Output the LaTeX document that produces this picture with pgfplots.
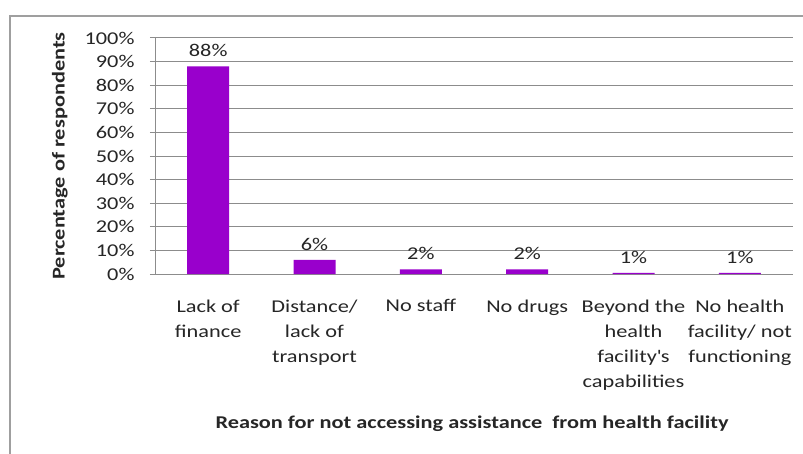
\documentclass[border=0pt]{standalone}
\usepackage{fontspec}
\setmainfont{Carlito}[FakeStretch=1.24]
\usepackage{pgfplots}
\pgfplotsset{compat=1.18}
\definecolor{barpurple}{HTML}{9900CC}
\definecolor{gridgray}{HTML}{8C8C8C}
\definecolor{txt}{HTML}{262626}
\begin{document}
\begin{tikzpicture}[x=1pt,y=1pt]
\useasboundingbox (0,0) rectangle (803,453);
\fill[white] (0,0) rectangle (803,453);
\draw[gray!75, line width=1.5pt] (10,-10) -- (10,437) -- (815,437);
\begin{axis}[at={(155pt,179pt)}, anchor=south west, scale only axis,
  width=638pt, height=236pt,
  xmin=-0.5, xmax=5.5, ymin=0, ymax=100,
  ybar, bar width=42pt,
  ytick={0,10,...,100},
  yticklabel={\pgfmathprintnumber{\tick}\%},
  /pgf/number format/assume math mode=true,
  font=\fontsize{18}{22}\selectfont,
  every tick label/.append style={text=txt},
  axis lines*=left,
  axis line style={gridgray, line width=1pt},
  ymajorgrids, grid style={gridgray, line width=1pt},
  ytick style={gridgray, line width=1pt},
  tick align=outside, major tick length=5pt,
  xtick={0,...,5},
  xtick style={draw=none},
  xticklabels={{Lack of\\finance},{Distance/\\lack of\\transport},{No staff},{No drugs},{Beyond the\\health\\facility\textquotesingle s\\capabilities},{No health\\facility/ not\\functioning}},
  xticklabel style={align=center, anchor=north, yshift=-17pt, font=\fontsize{18}{25}\selectfont},
  extra x ticks={-0.5,0.5,...,5.5},
  extra x tick labels={},
  extra x tick style={tick style={draw=gridgray, line width=1pt}, major tick length=5pt, grid=none},
  yticklabel style={xshift=-12pt},
  ylabel={\bfseries Percentage of respondents},
  ylabel style={text=txt, yshift=10pt, font=\fontsize{18}{22}\selectfont},
  xlabel={\bfseries Reason for not accessing assistance\ \ from health facility},
  xlabel style={text=txt, at={(axis description cs:0.497,0)}, yshift=-150pt, anchor=center, font=\fontsize{18}{22}\selectfont},
  nodes near coords={\pgfplotspointmeta\%},
  point meta=explicit symbolic,
  every node near coord/.append style={text=txt, font=\fontsize{18}{22}\selectfont, yshift=6pt},
  clip=false,
]
\addplot[fill=barpurple, draw=none] table[meta=lab] {
x y lab
0 88 88
1 6 6
2 2 2
3 2 2
4 0.5 1
5 0.5 1
};
\end{axis}
\end{tikzpicture}
\end{document}
